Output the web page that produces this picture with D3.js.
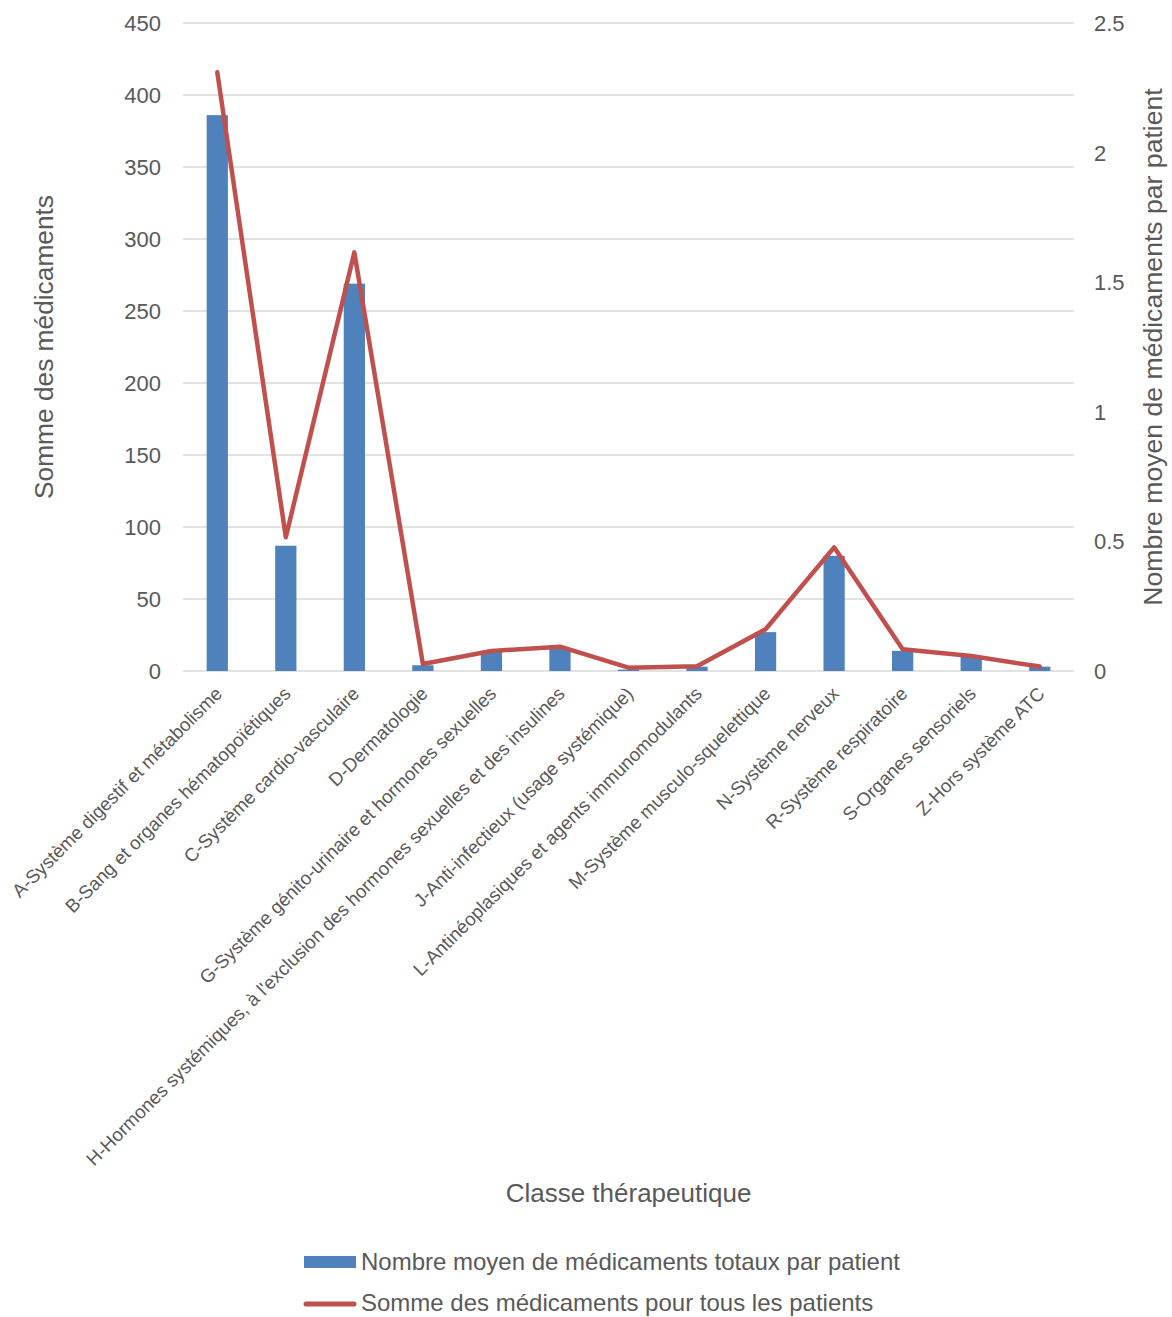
<!DOCTYPE html>
<html>
<head>
<meta charset="utf-8">
<script src="https://cdn.jsdelivr.net/npm/d3@7"></script>
<style>
  html, body { margin: 0; padding: 0; background: #fff; }
  svg { display: block; font-family: "Liberation Sans", Arial, sans-serif; }
</style>
</head>
<body>
<svg id="chart" width="1172" height="1317"></svg>
<script>
const categories = [
  "A-Système digestif et métabolisme",
  "B-Sang et organes hématopoïétiques",
  "C-Système cardio-vasculaire",
  "D-Dermatologie",
  "G-Système génito-urinaire et hormones sexuelles",
  "H-Hormones systémiques, à l'exclusion des hormones sexuelles et des insulines",
  "J-Anti-infectieux (usage systémique)",
  "L-Antinéoplasiques et agents immunomodulants",
  "M-Système musculo-squelettique",
  "N-Système nerveux",
  "R-Système respiratoire",
  "S-Organes sensoriels",
  "Z-Hors système ATC"
];
const barValues = [386, 87, 269, 4, 14, 16, 1, 3, 27, 80, 14, 10, 3];
const lineValues = [2.31, 0.516, 1.615, 0.027, 0.077, 0.094, 0.013, 0.018, 0.161, 0.477, 0.084, 0.058, 0.017];
const leftTicks = [0, 50, 100, 150, 200, 250, 300, 350, 400, 450];
const rightTicks = [0, 0.5, 1, 1.5, 2, 2.5];
const barSeriesName = "Nombre moyen de médicaments totaux par patient";
const lineSeriesName = "Somme des médicaments pour tous les patients";
const xTitle = "Classe thérapeutique";
const leftTitle = "Somme des médicaments";
const rightTitle = "Nombre moyen de médicaments par patient";

const textColor = "#595959";
const barColor = "#4F81BD";
const lineColor = "#C0504D";
const gridColor = "#D9D9D9";

const svg = d3.select("#chart");
const plot = {left: 183, right: 1074, top: 23, bottom: 671};

const x = d3.scaleBand().domain(categories).range([plot.left, plot.right]).padding(0);
const yL = d3.scaleLinear().domain([0, 450]).range([plot.bottom, plot.top]);
const yR = d3.scaleLinear().domain([0, 2.5]).range([plot.bottom, plot.top]);
const cx = c => x(c) + x.bandwidth() / 2;
const barW = x.bandwidth() * 0.31;

// gridlines
svg.append("g").selectAll("line").data(leftTicks).join("line")
  .attr("x1", plot.left).attr("x2", plot.right)
  .attr("y1", d => yL(d)).attr("y2", d => yL(d))
  .attr("stroke", gridColor).attr("stroke-width", 1.4);

// left axis labels
svg.append("g").selectAll("text").data(leftTicks).join("text")
  .attr("x", 161).attr("y", d => yL(d)).attr("dy", "0.36em")
  .attr("text-anchor", "end").attr("font-size", 22).attr("fill", textColor)
  .text(d => d);

// right axis labels
svg.append("g").selectAll("text").data(rightTicks).join("text")
  .attr("x", 1094).attr("y", d => yR(d)).attr("dy", "0.36em")
  .attr("text-anchor", "start").attr("font-size", 22).attr("fill", textColor)
  .text(d => d);

// bars
svg.append("g").selectAll("rect").data(categories).join("rect")
  .attr("x", d => cx(d) - barW / 2)
  .attr("width", barW)
  .attr("y", (d, i) => yL(barValues[i]))
  .attr("height", (d, i) => yL(0) - yL(barValues[i]))
  .attr("fill", barColor);

// line
const line = d3.line().x((d, i) => cx(categories[i])).y(d => yR(d));
svg.append("path").datum(lineValues)
  .attr("d", line).attr("fill", "none")
  .attr("stroke", lineColor).attr("stroke-width", 4.5)
  .attr("stroke-linejoin", "round").attr("stroke-linecap", "round");

// x labels
svg.append("g").selectAll("text").data(categories).join("text")
  .attr("transform", d => `translate(${cx(d) + 6},${695}) rotate(-45)`)
  .attr("text-anchor", "end").attr("font-size", 18.7).attr("fill", textColor)
  .text(d => d);

// axis titles
svg.append("text").attr("x", (plot.left + plot.right) / 2).attr("y", 1202)
  .attr("text-anchor", "middle").attr("font-size", 26).attr("fill", textColor).text(xTitle);
svg.append("text").attr("transform", "translate(53,347) rotate(-90)")
  .attr("text-anchor", "middle").attr("font-size", 26.3).attr("fill", textColor).text(leftTitle);
svg.append("text").attr("transform", "translate(1162,347) rotate(-90)")
  .attr("text-anchor", "middle").attr("font-size", 26.6).attr("fill", textColor).text(rightTitle);

// legend
const lg = svg.append("g");
lg.append("rect").attr("x", 304).attr("y", 1256).attr("width", 52).attr("height", 12).attr("fill", barColor);
lg.append("text").attr("x", 361).attr("y", 1270).attr("font-size", 24).attr("fill", textColor).text(barSeriesName);
lg.append("line").attr("x1", 306).attr("x2", 354).attr("y1", 1304).attr("y2", 1304)
  .attr("stroke", lineColor).attr("stroke-width", 5).attr("stroke-linecap", "round");
lg.append("text").attr("x", 361).attr("y", 1311).attr("font-size", 24).attr("fill", textColor).text(lineSeriesName);
</script>
</body>
</html>
